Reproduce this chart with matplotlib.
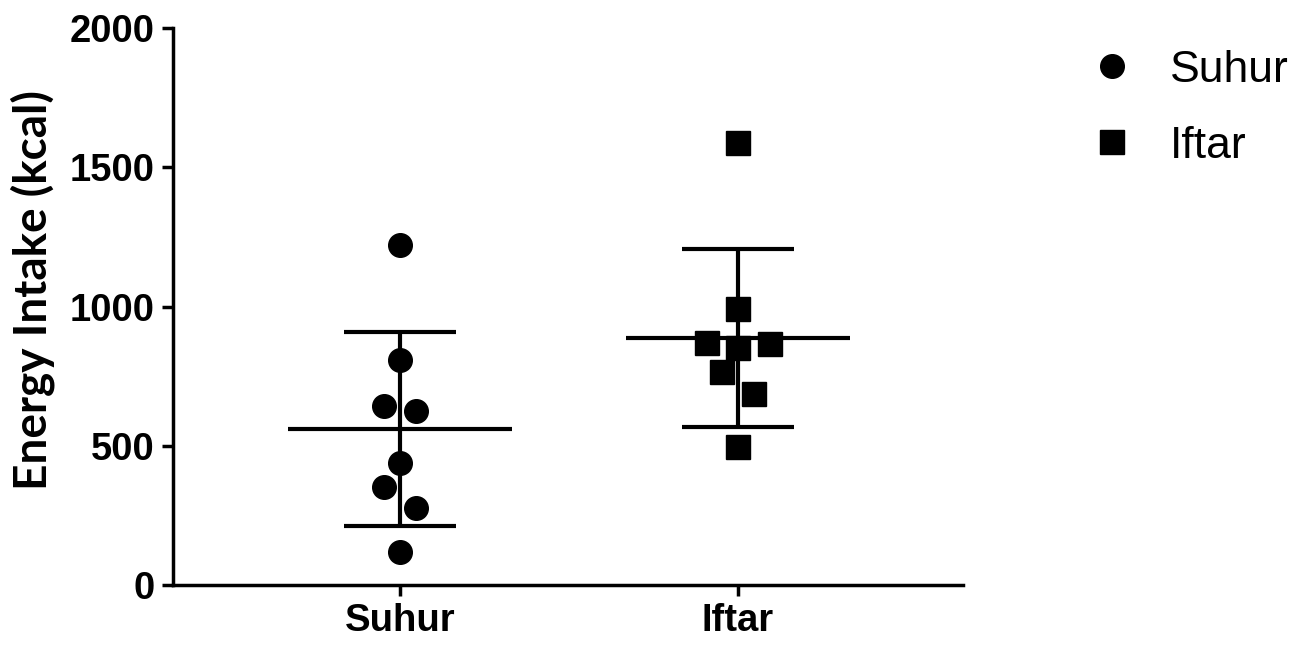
import matplotlib
matplotlib.use("Agg")
import matplotlib.pyplot as plt
from matplotlib.lines import Line2D
import numpy as np

# energy intake per participant (kcal)
groups = ["Suhur", "Iftar"]
suhur_kcal = [1221, 808, 643, 625, 437, 353, 275, 120]
iftar_kcal = [1588, 991, 868, 850, 865, 764, 685, 494]

# horizontal scatter of the dots around each category (category units)
suhur_jitter = [0, 0, -0.047, 0.047, 0, -0.047, 0.047, 0]
iftar_jitter = [0, 0, -0.092, 0, 0.095, -0.047, 0.047, 0]

y_ticks = [0, 500, 1000, 1500, 2000]

tick_font = {"family": "Liberation Sans", "weight": "bold", "size": 27.5}

fig = plt.figure(figsize=(13.08, 6.47), dpi=100)
ax = fig.add_axes([0.1323, 0.0958, 0.604, 0.8609])

series = [
    (suhur_kcal, suhur_jitter, "o"),
    (iftar_kcal, iftar_jitter, "s"),
]

for i, (vals, jit, mk) in enumerate(series):
    vals = np.array(vals, dtype=float)
    m = vals.mean()
    sd = vals.std(ddof=1)
    # mean line, SD whisker and caps
    ax.hlines(m, i - 0.331, i + 0.331, color="black", lw=3, zorder=2)
    ax.vlines(i, m - sd, m + sd, color="black", lw=3, zorder=2)
    ax.hlines([m - sd, m + sd], i - 0.166, i + 0.166, color="black", lw=3, zorder=2)
    ax.plot(i + np.array(jit), vals, linestyle="none", marker=mk,
            markersize=17, color="black", zorder=3)

ax.set_xlim(-0.672, 1.666)
ax.set_ylim(0, 2000)
ax.set_xticks(range(len(groups)))
ax.set_xticklabels(groups, fontdict=tick_font)
ax.set_yticks(y_ticks)
ax.set_yticklabels([str(t) for t in y_ticks], fontdict=tick_font)

for side in ["top", "right"]:
    ax.spines[side].set_visible(False)
for side in ["left", "bottom"]:
    ax.spines[side].set_linewidth(2.5)
ax.tick_params(axis="both", direction="out", length=8, width=2.5, pad=5)

fig.text(33 / 1308, 1 - 290 / 647, "Energy Intake (kcal)", rotation=90,
         ha="center", va="center", family="Lato", weight="bold", fontsize=33)

handles = [
    Line2D([], [], linestyle="none", marker="o", markersize=17, color="black"),
    Line2D([], [], linestyle="none", marker="s", markersize=17, color="black"),
]
fig.legend(handles, groups, loc="upper left", bbox_to_anchor=(1090 / 1308, 1 - 50 / 647),
           frameon=False, borderpad=0, borderaxespad=0, handlelength=1.0,
           handletextpad=0.8, labelspacing=0.78,
           prop={"family": "Liberation Sans", "size": 32})

fig.savefig("out.png", dpi=100)
